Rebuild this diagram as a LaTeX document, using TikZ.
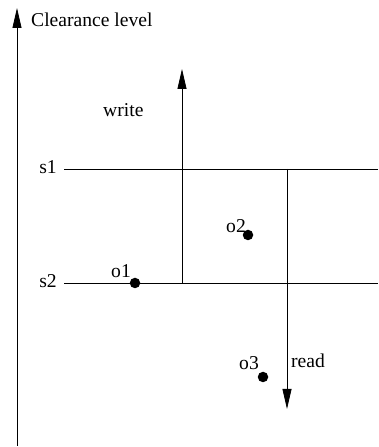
\documentclass[tikz,border=0pt]{standalone}
\usepackage{fontspec}
\setmainfont{Liberation Serif}
\usetikzlibrary{arrows.meta}
\begin{document}
\begin{tikzpicture}[x=1pt,y=1pt,
  lbl/.style={font=\fontsize{19.6}{22}\selectfont, inner sep=0pt, anchor=base west},
  ln/.style={line width=0.8pt},
  arr/.style={line width=0.8pt, -{Triangle[length=20pt,width=9pt]}},
  dot/.style={circle, fill=black, inner sep=0pt, minimum size=10.5pt}]
\useasboundingbox (0,0) rectangle (378,447);
% axis
\coordinate (axB) at (17,1);
\coordinate (axT) at (17,439);
\draw[arr] (axB) -- (axT);
\node[lbl] (cl) at (31,420) {Clearance level};
% security levels
\coordinate (s1L) at (64,278);
\coordinate (s1R) at (378,278);
\coordinate (s2L) at (64,164);
\coordinate (s2R) at (378,164);
\draw[ln] (s1L) -- (s1R);
\draw[ln] (s2L) -- (s2R);
\node[lbl, anchor=base east] (s1) at (57,273) {s1};
\node[lbl, anchor=base east] (s2) at (57,159) {s2};
% write arrow
\coordinate (wB) at (182,164);
\coordinate (wT) at (182,378);
\draw[arr] (wB) -- (wT);
\node[lbl] (wl) at (103,330) {write};
% read arrow
\coordinate (rT) at (287,278);
\coordinate (rB) at (287,38);
\draw[arr] (rT) -- (rB);
\node[lbl] (rl) at (291,79) {read};
% objects
\node[dot] (o1) at (135,164) {};
\node[lbl] (o1l) at (111,169) {o1};
\node[dot] (o2) at (248,212) {};
\node[lbl] (o2l) at (226,214) {o2};
\node[dot] (o3) at (263,70) {};
\node[lbl] (o3l) at (239,77) {o3};
\end{tikzpicture}
\end{document}
